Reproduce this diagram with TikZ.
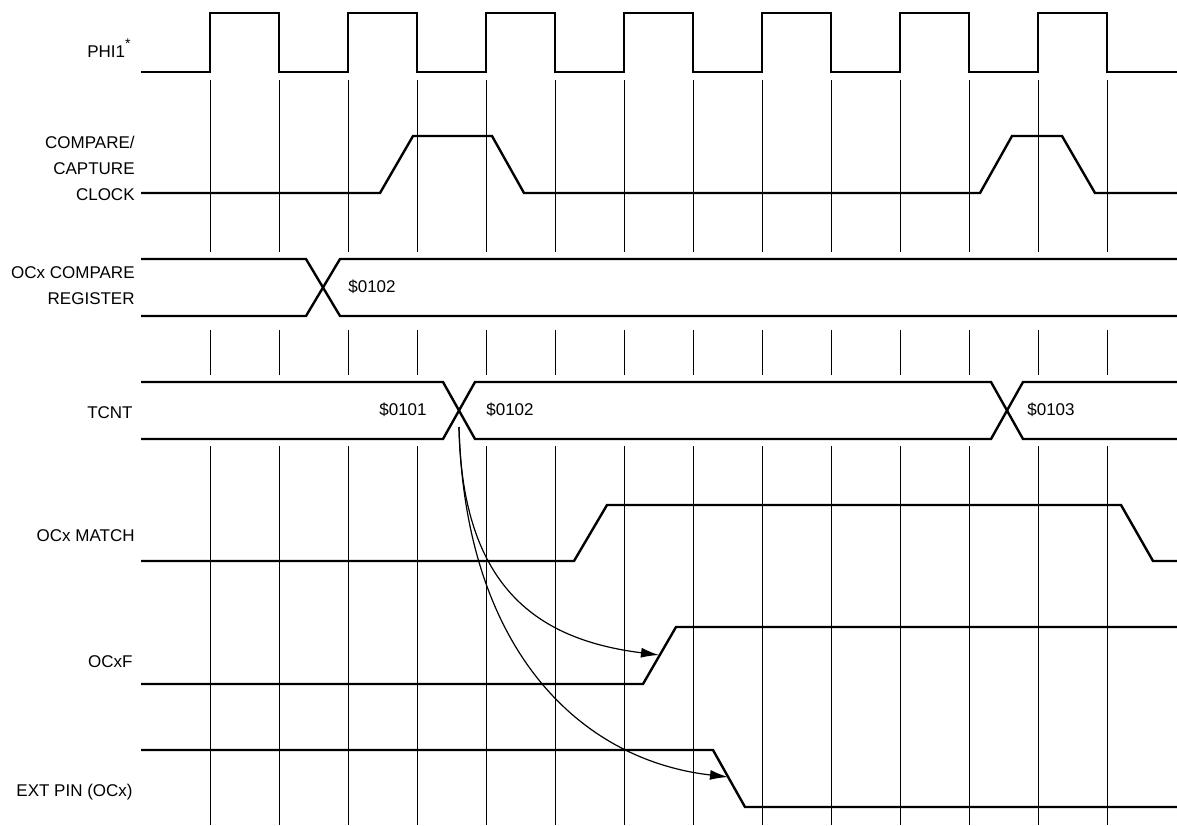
\documentclass[tikz,border=0pt]{standalone}
\usepackage{fontspec}
\setmainfont{Liberation Sans}
\usetikzlibrary{arrows.meta}
\begin{document}
\begin{tikzpicture}[x=0.5pt,y=-0.5pt,
  sig/.style={line width=1.2pt,line join=miter},
  gridline/.style={line width=0.5pt},
  lbl/.style={anchor=east,align=right,inner sep=0pt,font=\fontsize{8.5}{13}\selectfont},
  val/.style={inner sep=0pt,font=\fontsize{8.5}{13}\selectfont},
  cause/.style={line width=0.6pt,-{Latex[length=9pt,width=5pt]}}]
\useasboundingbox (0,0) rectangle (1177,825);
\foreach \x in {210,279,...,1107}
{\draw[gridline] (\x,80)--(\x,252) (\x,330)--(\x,375) (\x,446)--(\x,825);}
\draw[sig] (141,72) \foreach \x in {210,348,...,1038}{--(\x,72)--(\x,13)--({\x+69},13)--({\x+69},72)} --(1177,72);
\draw[sig] (141,193)--(380,193)--(413,136)--(492,136)--(524,193)--(980,193)--(1012,136)--(1062,136)--(1095,193)--(1177,193);
\draw[sig] (141,259)--(306,259)--(340,316)--(1177,316);
\draw[sig] (141,316)--(306,316)--(340,259)--(1177,259);
\draw[sig] (141,382)--(443,382)--(475,439)--(991,439)--(1023,382)--(1177,382);
\draw[sig] (141,439)--(443,439)--(475,382)--(991,382)--(1023,439)--(1177,439);
\draw[sig] (141,561)--(574,561)--(607,505)--(1121,505)--(1153,561)--(1177,561);
\draw[sig] (141,684)--(643,684)--(676,627)--(1177,627);
\draw[sig] (141,750)--(713,750)--(745,807)--(1177,807);
\node[lbl] (phi) at (131,48) {PHI1\raisebox{0.5em}{\fontsize{7}{8}\selectfont*}};
\node[lbl] (ccclk) at (135,168) {COMPARE/\\CAPTURE\\CLOCK};
\node[lbl] (ocreg) at (135,286) {OCx COMPARE\\REGISTER};
\node[lbl] (tcnt) at (133,413) {TCNT};
\node[lbl] (match) at (135,536) {OCx MATCH};
\node[lbl] (ocxf) at (133,662) {OCxF};
\node[lbl] (extpin) at (133,792) {EXT PIN (OCx)};
\node[val] (regval) at (372,287) {\$0102};
\node[val] (cntold) at (403,410) {\$0101};
\node[val] (cntnew) at (510,410) {\$0102};
\node[val] (cntnext) at (1051,410) {\$0103};
\coordinate (tmatch) at (459,427);
\coordinate (flagset) at (659,655);
\coordinate (pinclr) at (728,777);
\draw[cause] (tmatch) .. controls (462,590) and (540,640) .. (flagset);
\draw[cause] (tmatch) .. controls (465,650) and (580,760) .. (pinclr);
\end{tikzpicture}
\end{document}
